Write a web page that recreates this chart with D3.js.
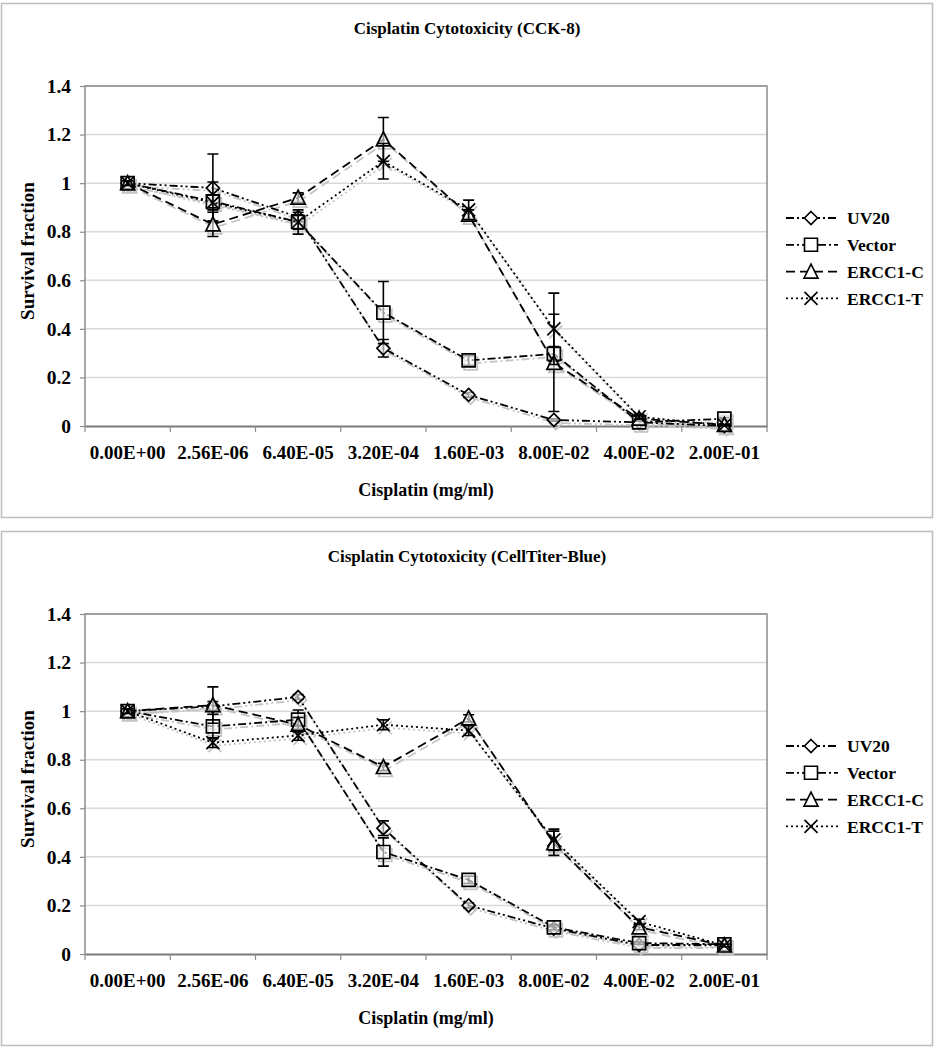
<!DOCTYPE html>
<html>
<head>
<meta charset="utf-8">
<script src="https://cdn.jsdelivr.net/npm/d3@7"></script>
<style>
  html, body { margin: 0; padding: 0; background: #fff; }
</style>
</head>
<body>
<svg id="chart" width="935" height="1050" font-family="Liberation Serif, Times New Roman, Times, serif" font-weight="bold"></svg>
<script>
// ---------- DATA ----------
const categories = ["0.00E+00","2.56E-06","6.40E-05","3.20E-04","1.60E-03","8.00E-02","4.00E-02","2.00E-01"];
const seriesNames = ["UV20","Vector","ERCC1-C","ERCC1-T"];
const yTicks = [0, 0.2, 0.4, 0.6, 0.8, 1, 1.2, 1.4];

// Chart 1: CCK-8
const cck8Title = "Cisplatin Cytotoxicity (CCK-8)";
const cck8UV20      = [1.0, 0.98, 0.86, 0.32, 0.128, 0.025, 0.015, 0.0];
const cck8UV20Err   = [0.01, 0.14, 0.02, 0.036, 0.01, 0.005, 0.005, 0.003];
const cck8Vector    = [1.0, 0.925, 0.84, 0.467, 0.27, 0.297, 0.015, 0.03];
const cck8VectorErr = [0.01, 0.08, 0.05, 0.128, 0.02, 0.03, 0.01, 0.005];
const cck8ERCCC     = [1.0, 0.83, 0.94, 1.18, 0.87, 0.26, 0.03, 0.005];
const cck8ERCCCErr  = [0.01, 0.05, 0.02, 0.09, 0.02, 0.2, 0.01, 0.003];
const cck8ERCCT     = [1.0, 0.92, 0.84, 1.09, 0.89, 0.40, 0.038, 0.003];
const cck8ERCCTErr  = [0.01, 0.03, 0.03, 0.073, 0.04, 0.147, 0.01, 0.003];

// Chart 2: CellTiter-Blue
const ctbTitle = "Cisplatin Cytotoxicity (CellTiter-Blue)";
const ctbUV20       = [1.0, 1.02, 1.058, 0.518, 0.20, 0.105, 0.037, 0.037];
const ctbUV20Err    = [0.01, 0.02, 0.01, 0.03, 0.01, 0.01, 0.005, 0.005];
const ctbVector     = [1.0, 0.937, 0.965, 0.42, 0.305, 0.11, 0.045, 0.04];
const ctbVectorErr  = [0.01, 0.05, 0.04, 0.058, 0.015, 0.01, 0.005, 0.005];
const ctbERCCC      = [1.0, 1.025, 0.944, 0.77, 0.97, 0.456, 0.11, 0.035];
const ctbERCCCErr   = [0.01, 0.075, 0.03, 0.015, 0.015, 0.05, 0.01, 0.005];
const ctbERCCT      = [1.0, 0.87, 0.90, 0.944, 0.92, 0.47, 0.133, 0.035];
const ctbERCCTErr   = [0.01, 0.02, 0.02, 0.02, 0.02, 0.044, 0.01, 0.005];

// ---------- STYLE ----------
const FONT = "Liberation Serif, Times New Roman, Times, serif";
const dashes = { "UV20": "8,3,2,3,2,3", "Vector": "8,3,2,3", "ERCC1-C": "9,5", "ERCC1-T": "2,3" };
const markerKind = { "UV20": "diamond", "Vector": "square", "ERCC1-C": "triangle", "ERCC1-T": "x" };
const shadowColor = "#c4c4c4";

function markerPath(kind) {
  const s = 6.5;
  if (kind === "diamond") return `M0,${-s}L${s},0L0,${s}L${-s},0Z`;
  if (kind === "square") return `M${-s},${-s}H${s}V${s}H${-s}Z`;
  if (kind === "triangle") return `M0,${-s-1}L${s+0.5},${s}L${-s-0.5},${s}Z`;
  return `M${-s},${-s}L${s},${s}M${s},${-s}L${-s},${s}`;
}

const svg = d3.select("#chart");

function txt(sel, size) {
  return sel.attr("font-family", FONT).attr("font-weight", "bold").attr("font-size", size).attr("fill", "#000");
}

function drawPanel(offsetY, title, seriesData) {
  const g = svg.append("g").attr("transform", `translate(0,${offsetY})`);
  const left = 85, right = 767, top = 86, bottom = 426;

  g.append("rect").attr("x", 1.5).attr("y", 3.5).attr("width", 931).attr("height", 514)
    .attr("fill", "#fff").attr("stroke", "#bdbdbd").attr("stroke-width", 1.5);

  const x = d3.scaleBand().domain(categories).range([left, right]);
  const y = d3.scaleLinear().domain([0, 1.4]).range([bottom, top]);

  g.append("g").selectAll("line").data(yTicks.filter(d => d > 0)).join("line")
    .attr("x1", left).attr("x2", right).attr("y1", d => y(d)).attr("y2", d => y(d))
    .attr("stroke", "#d9d9d9").attr("stroke-width", 1.5);

  g.append("path").attr("d", `M${left},${bottom}V${top}H${right}V${bottom}`)
    .attr("fill", "none").attr("stroke", "#8c8c8c").attr("stroke-width", 1.5);

  const yAxis = g.append("g").attr("transform", `translate(${left},0)`)
    .call(d3.axisLeft(y).tickValues(yTicks).tickSize(5).tickPadding(9)
      .tickFormat(d => d3.format("~g")(d)));
  yAxis.attr("font-family", FONT).attr("font-size", 19);
  yAxis.select(".domain").remove();
  yAxis.selectAll(".tick line").attr("stroke", "#8c8c8c").attr("stroke-width", 1.2);
  txt(yAxis.selectAll(".tick text"), 19.5);

  const xAxis = g.append("g").attr("transform", `translate(0,${bottom})`)
    .call(d3.axisBottom(x).tickSize(0).tickPadding(20));
  xAxis.attr("font-family", FONT).attr("font-size", 19);
  xAxis.select(".domain").attr("stroke", "#7a7a7a").attr("stroke-width", 1.8);
  txt(xAxis.selectAll(".tick text"), 19);
  const bounds = categories.map(c => x(c)).concat([x.range()[1]]);
  xAxis.append("g").selectAll("line").data(bounds).join("line")
    .attr("x1", d => d).attr("x2", d => d).attr("y1", 0).attr("y2", 6)
    .attr("stroke", "#8c8c8c").attr("stroke-width", 1.2);

  txt(g.append("text"), 17).attr("x", 467).attr("y", 34).attr("text-anchor", "middle").text(title);
  txt(g.append("text"), 18).attr("x", (left + right) / 2).attr("y", 496).attr("text-anchor", "middle").text("Cisplatin (mg/ml)");
  txt(g.append("text"), 19).attr("transform", `translate(34,${(top + bottom) / 2 - 5}) rotate(-90)`)
    .attr("text-anchor", "middle").text("Survival fraction");

  const cx = c => x(c) + x.bandwidth() / 2;
  const line = d3.line().x(d => cx(d.c)).y(d => y(d.v));

  function drawSeries(layer, s, color, isShadow) {
    const pts = categories.map((c, i) => ({ c, v: s.values[i], e: s.err[i] }));
    layer.append("path").datum(pts).attr("d", line)
      .attr("fill", "none").attr("stroke", color).attr("stroke-width", 1.8)
      .attr("stroke-dasharray", dashes[s.name]);
    if (!isShadow) {
      const eb = layer.append("g");
      pts.forEach(p => {
        const px = cx(p.c);
        eb.append("path")
          .attr("d", `M${px},${y(p.v + p.e)}V${y(p.v - p.e)}M${px - 5.5},${y(p.v + p.e)}H${px + 5.5}M${px - 5.5},${y(p.v - p.e)}H${px + 5.5}`)
          .attr("stroke", "#000").attr("stroke-width", 1.6).attr("fill", "none");
      });
    }
    layer.append("g").selectAll("path").data(pts).join("path")
      .attr("transform", d => `translate(${cx(d.c)},${y(d.v)})`)
      .attr("d", markerPath(markerKind[s.name]))
      .attr("fill", markerKind[s.name] === "x" ? "none" : (isShadow ? "none" : "rgba(255,255,255,0.6)"))
      .attr("stroke", color).attr("stroke-width", 1.7);
  }

  const shadow = g.append("g").attr("transform", "translate(2,3)");
  seriesData.forEach(s => drawSeries(shadow, s, shadowColor, true));
  const main = g.append("g");
  seriesData.forEach(s => drawSeries(main, s, "#000", false));

  const legY0 = 218, legStep = 26.8;
  const leg = g.append("g");
  seriesData.forEach((s, i) => {
    const ly = legY0 + i * legStep;
    const lg = leg.append("g").attr("transform", `translate(0,${ly})`);
    lg.append("line").attr("x1", 786).attr("x2", 838).attr("y1", 0).attr("y2", 0)
      .attr("stroke", "#000").attr("stroke-width", 1.8).attr("stroke-dasharray", dashes[s.name]);
    lg.append("path").attr("transform", "translate(811,0)").attr("d", markerPath(markerKind[s.name]))
      .attr("fill", markerKind[s.name] === "x" ? "none" : "#fff").attr("stroke", "#000").attr("stroke-width", 1.6);
    txt(lg.append("text"), 17.5).attr("x", 847).attr("y", 0).attr("dy", "0.35em").text(s.name);
  });
}

drawPanel(0, cck8Title, [
  { name: "UV20", values: cck8UV20, err: cck8UV20Err },
  { name: "Vector", values: cck8Vector, err: cck8VectorErr },
  { name: "ERCC1-C", values: cck8ERCCC, err: cck8ERCCCErr },
  { name: "ERCC1-T", values: cck8ERCCT, err: cck8ERCCTErr }
]);
drawPanel(528, ctbTitle, [
  { name: "UV20", values: ctbUV20, err: ctbUV20Err },
  { name: "Vector", values: ctbVector, err: ctbVectorErr },
  { name: "ERCC1-C", values: ctbERCCC, err: ctbERCCCErr },
  { name: "ERCC1-T", values: ctbERCCT, err: ctbERCCTErr }
]);
</script>
</body>
</html>
